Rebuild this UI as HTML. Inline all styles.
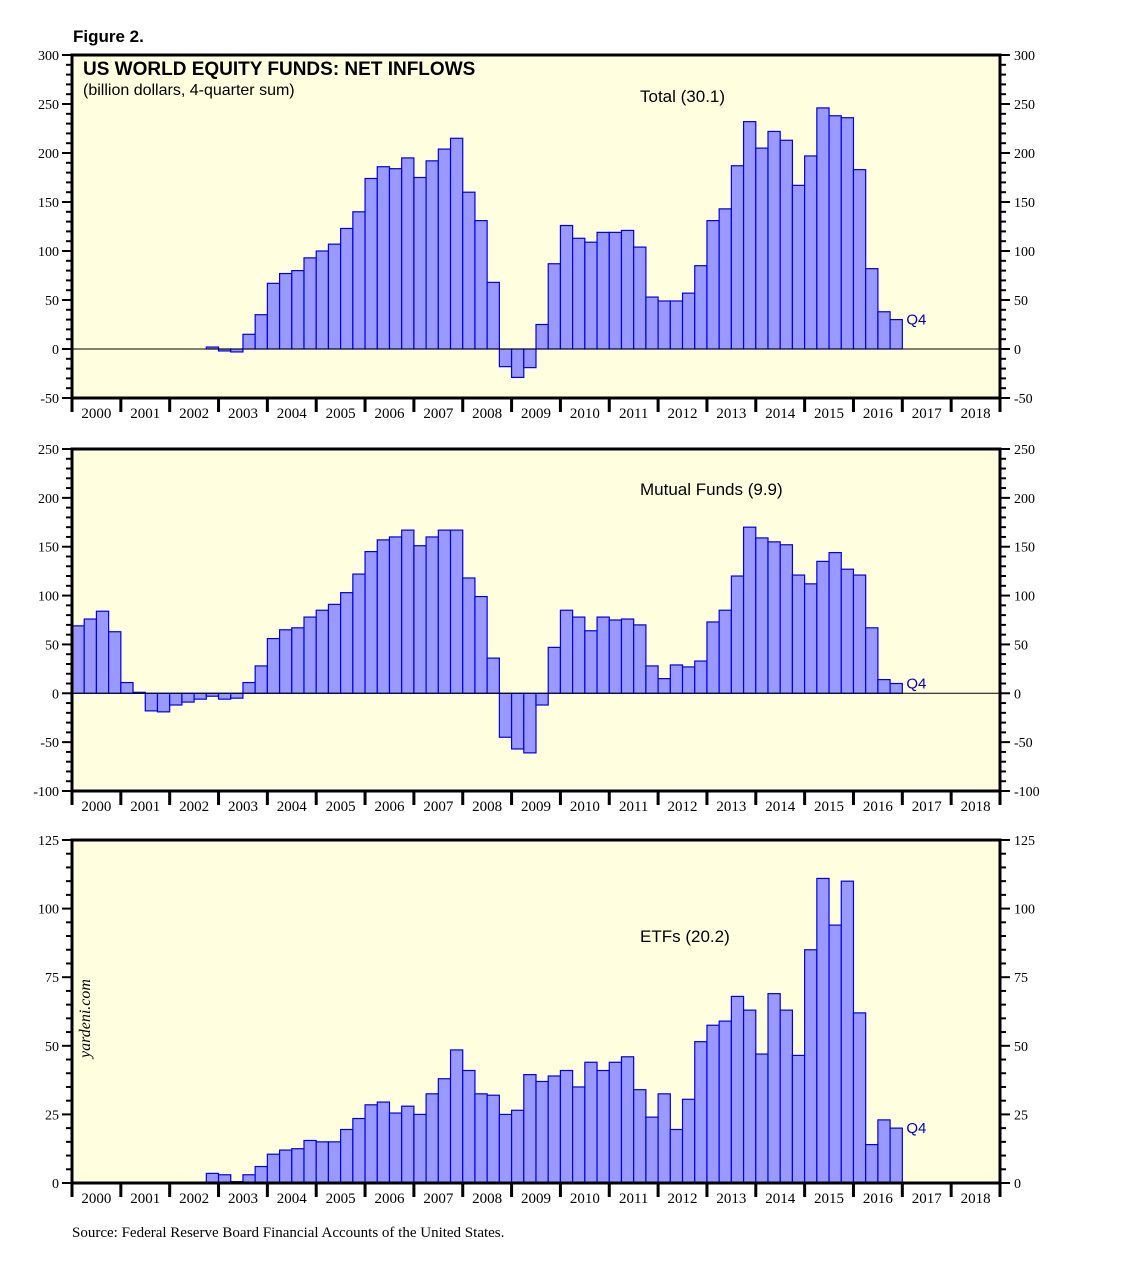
<!DOCTYPE html>
<html><head><meta charset="utf-8"><style>
body{margin:0;background:#fff;}
svg text{font-family:"Liberation Serif",serif;}
</style></head><body>
<svg id="c" width="1138" height="1274" xmlns="http://www.w3.org/2000/svg">
<text x="73" y="42" style="font-family:'Liberation Sans',sans-serif" font-weight="bold" font-size="17">Figure 2.</text>
<text x="72" y="1237" font-size="15">Source: Federal Reserve Board Financial Accounts of the United States.</text>
</svg>
<script>
const years = [2000,2001,2002,2003,2004,2005,2006,2007,2008,2009,2010,2011,2012,2013,2014,2015,2016,2017,2018];
const totalStartQ = 11;
const totalValues = [2,-2,-3,15,35,67,77,80,93,100,107,123,140,174,186,184,195,175,192,204,215,160,131,68,-18,-29,-19,25,87,126,113,109,119,119,121,104,53,49,49,57,85,131,143,187,232,205,222,213,167,197,246,238,236,183,82,38,30];
const mfStartQ = 0;
const mfValues = [69,76,84,63,11,1,-18,-19,-12,-9,-6,-3,-6,-5,11,28,56,65,67,78,85,91,103,122,145,157,160,167,151,160,167,167,118,99,36,-45,-57,-61,-12,47,85,78,64,78,75,76,70,28,15,29,27,33,73,85,120,170,159,155,152,121,112,135,144,127,121,67,14,10];
const etfStartQ = 11;
const etfValues = [3.5,3,0.5,3,6,10.5,12,12.5,15.5,15,15,19.5,23.5,28.5,29.5,25.5,28,25,32.5,38,48.5,41,32.5,32,25,26.5,39.5,37,39,41,35,44,41,44,46,34,24,32.5,19.5,30.5,51.5,57.5,59,68,63,47,69,63,46.5,85,111,94,110,62,14,23,20];

const NS="http://www.w3.org/2000/svg";
const svg=document.getElementById('c');
function mk(tag,attrs,parent){const e=document.createElementNS(NS,tag);for(const k in attrs)e.setAttribute(k,attrs[k]);(parent||svg).appendChild(e);return e;}
const X0=72,X1=1000;
const qw=(X1-X0)/(years.length*4);
function xq(i){return X0+i*qw;}

function panel(o){
  const g=mk('g',{});
  
  
  const y=v=>o.top+(o.max-v)/(o.max-o.min)*(o.bot-o.top);
  const bg=mk('rect',{x:X0,y:o.top,width:X1-X0,height:o.bot-o.top,fill:'#ffffe0'},g);
  
  
  o.values.forEach((v,i)=>{
    const x=xq(o.start+i);const y0=y(0),y1=y(v);
    const r=mk('rect',{x:x,y:Math.min(y0,y1),width:qw,height:Math.max(0.5,Math.abs(y1-y0)),fill:'#9999ff',stroke:'#0000ee','stroke-width':1.2},g);
    
    
  });
  if(o.min<0){const z=mk('line',{x1:X0,x2:X1,y1:y(0),y2:y(0),stroke:'#000','stroke-width':1},g);
    
    }
  mk('rect',{x:X0,y:o.top,width:X1-X0,height:o.bot-o.top,fill:'none',stroke:'#000','stroke-width':3},g);
  for(let v=o.min;v<=o.max+0.001;v+=o.minor){
    const yy=y(v);const major=Math.abs(v/o.major-Math.round(v/o.major))<1e-6;
    const L=major?10:6;
    mk('line',{x1:X0-L,x2:X0,y1:yy,y2:yy,stroke:'#000','stroke-width':2},g);
    mk('line',{x1:X1,x2:X1+L,y1:yy,y2:yy,stroke:'#000','stroke-width':2},g);
    if(major){
      const t1=mk('text',{x:X0-13,y:yy+5,'font-size':14,'text-anchor':'end'},g);t1.textContent=v;
      
      
      const t2=mk('text',{x:X1+14,y:yy+5,'font-size':14},g);t2.textContent=v;
      
      
    }
  }
  years.forEach((yr,i)=>{
    const x=X0+i*4*qw;
    mk('line',{x1:x,x2:x,y1:o.bot,y2:o.bot+14,stroke:'#000','stroke-width':3},g);
    const t=mk('text',{x:x+2*qw,y:o.bot+20,'font-size':15,'text-anchor':'middle'},g);t.textContent=yr;
    
    
  });
  mk('line',{x1:X1,x2:X1,y1:o.bot,y2:o.bot+14,stroke:'#000','stroke-width':3},g);
  const lab=mk('text',{x:640,y:o.labelY,'font-size':17,style:"font-family:'Liberation Sans',sans-serif"},g);lab.textContent=o.label;
  
  
  const lastI=o.start+o.values.length;const lv=o.values[o.values.length-1];
  const q=mk('text',{x:xq(lastI)+4,y:y(lv)+5,'font-size':15,fill:'#0000cc',style:"font-family:'Liberation Sans',sans-serif"},g);q.textContent='Q4';
  
  
  return g;
}
panel({name:'total-panel',top:55,bot:398,min:-50,max:300,major:50,minor:10,values:totalValues,start:totalStartQ,label:'Total (30.1)',labelY:102});
panel({name:'mutual-funds-panel',top:449,bot:791,min:-100,max:250,major:50,minor:10,values:mfValues,start:mfStartQ,label:'Mutual Funds (9.9)',labelY:495});
panel({name:'etfs-panel',top:840,bot:1183,min:0,max:125,major:25,minor:5,values:etfValues,start:etfStartQ,label:'ETFs (20.2)',labelY:942});

const t1=mk('text',{x:83,y:75,'font-size':19,'font-weight':'bold',style:"font-family:'Liberation Sans',sans-serif"});t1.textContent='US WORLD EQUITY FUNDS: NET INFLOWS';


const t2=mk('text',{x:83,y:95,'font-size':16,style:"font-family:'Liberation Sans',sans-serif"});t2.textContent='(billion dollars, 4-quarter sum)';


const w=mk('text',{x:0,y:0,'font-size':16,'font-style':'italic',transform:'translate(90,1058) rotate(-90)'});w.textContent='yardeni.com';


</script>
</body></html>
